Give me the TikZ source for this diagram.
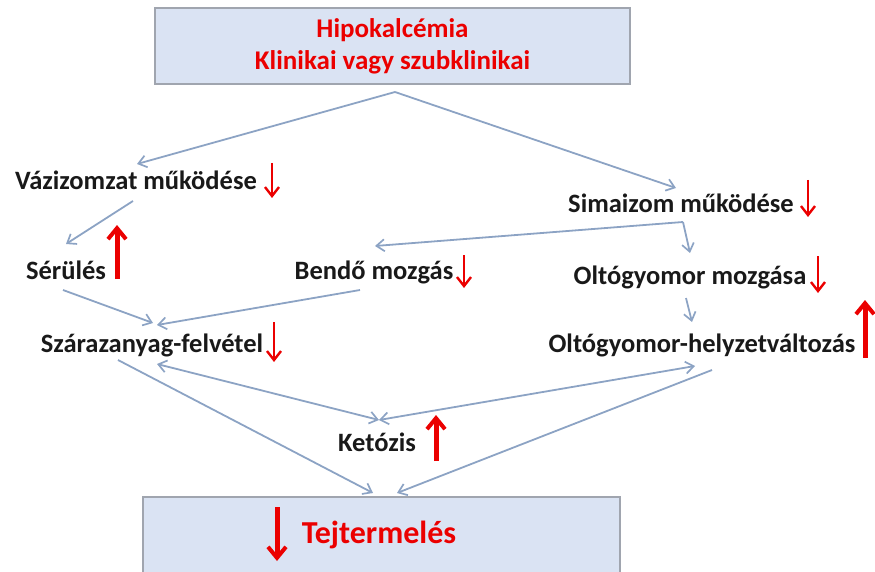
\documentclass[tikz,border=0pt]{standalone}
\usepackage{fontspec}
\setmainfont{Carlito}
\usetikzlibrary{arrows.meta}
\definecolor{boxfill}{RGB}{218,227,243}
\definecolor{boxline}{RGB}{160,165,175}
\definecolor{conn}{RGB}{140,163,196}
\definecolor{myred}{RGB}{235,0,0}
\definecolor{txt}{RGB}{25,25,25}
\tikzset{
  lbl/.style={font=\bfseries\fontsize{26.5}{30}\selectfont, text=txt, inner sep=0pt, anchor=center},
  bigbox/.style={draw=boxline, line width=1.2pt, fill=boxfill, inner sep=0pt},
  connline/.style={draw=conn, line width=1.8pt, -{Straight Barb[length=8pt,width=12pt,line width=1.7pt]}},
  dconnline/.style={draw=conn, line width=1.8pt, {Straight Barb[length=8pt,width=12pt,line width=1.7pt]}-{Straight Barb[length=8pt,width=12pt,line width=1.7pt]}},
  thinred/.style={draw=myred, line width=2.4pt, -{Straight Barb[length=9pt,width=14pt,line width=2.4pt]}},
  thickred/.style={draw=myred, line width=5pt, -{Straight Barb[length=11pt,width=18pt,line width=4pt]}}
}
\begin{document}
\begin{tikzpicture}[x=1pt,y=-1pt]
\useasboundingbox (0,0) rectangle (875,572);
% boxes
\node[bigbox, minimum width=475pt, minimum height=76pt] (top) at (392.5,46) {};
\node[font=\bfseries\fontsize{27}{31}\selectfont, text=myred, align=center, inner sep=0pt] (toptxt) at (392.5,46) {Hipokalcémia\\[1pt]Klinikai vagy szubklinikai};
\node[bigbox, minimum width=477pt, minimum height=80pt] (bot) at (381.5,537) {};
\node[font=\bfseries\fontsize{32}{36}\selectfont, text=myred, inner sep=0pt] (tej) at (379,535) {Tejtermelés};
% labels
\node[lbl] (vaz) at (136,180) {Vázizomzat működése};
\node[lbl] (sima) at (681,203) {Simaizom működése};
\node[lbl] (ser) at (66,270) {Sérülés};
\node[lbl] (bendo) at (374,272) {Bendő mozgás};
\node[lbl] (oltm) at (690,277) {Oltógyomor mozgása};
\node[lbl] (szar) at (152,345) {Szárazanyag-felvétel};
\node[lbl] (olth) at (702,345) {Oltógyomor-helyzetváltozás};
\node[lbl] (ket) at (377,442) {Ketózis};
% connector end points
\coordinate (topOut) at (395,92);
\coordinate (vazIn) at (137,164);
\coordinate (simaIn) at (676,188);
\coordinate (vazOut) at (133,201);
\coordinate (serIn) at (66,244);
\coordinate (simaOut) at (683,222);
\coordinate (bendoIn) at (375,246);
\coordinate (oltmIn) at (690,253);
\coordinate (oltmOut) at (686,298);
\coordinate (olthIn) at (692,322);
\coordinate (serOut) at (63,290);
\coordinate (szarIn) at (153,323);
\coordinate (bendoOut) at (360,290);
\coordinate (szarIn2) at (157,325);
\coordinate (szarOut) at (118,360);
\coordinate (szarK) at (157,364);
\coordinate (ketIn) at (379,420);
\coordinate (olthK) at (695,366);
\coordinate (olthOut) at (712,370);
\coordinate (botIn1) at (373,493);
\coordinate (botIn2) at (397,493);
% connectors
\draw[connline] (topOut) -- (vazIn);
\draw[connline] (topOut) -- (simaIn);
\draw[connline] (vazOut) -- (serIn);
\draw[connline] (simaOut) -- (bendoIn);
\draw[connline] (simaOut) -- (oltmIn);
\draw[connline] (oltmOut) -- (olthIn);
\draw[connline] (serOut) -- (szarIn);
\draw[connline] (bendoOut) -- (szarIn2);
\draw[dconnline] (szarK) -- (ketIn);
\draw[dconnline] (olthK) -- (ketIn);
\draw[connline] (szarOut) -- (botIn1);
\draw[connline] (olthOut) -- (botIn2);
% red arrows
\draw[thinred] (272,163) -- (272,198);
\draw[thinred] (808,180) -- (808,217);
\draw[thickred] (117,279) -- (117,225);
\draw[thinred] (464,255) -- (464,288);
\draw[thinred] (818,256) -- (818,293);
\draw[thinred] (274,322) -- (274,362);
\draw[thickred] (865,358) -- (865,300);
\draw[thickred] (436,461) -- (436,415);
\draw[thickred] (277,507) -- (277,561);
\end{tikzpicture}
\end{document}
